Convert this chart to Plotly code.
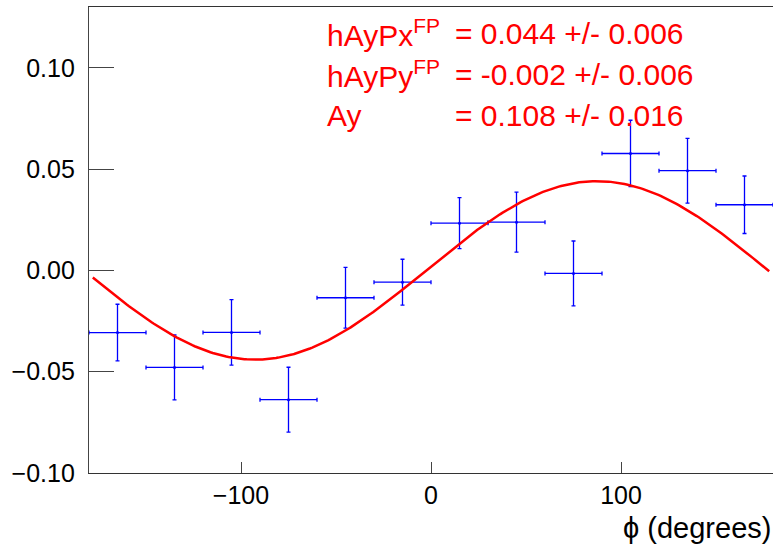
import numpy as np
import plotly.graph_objects as go

# binned asymmetry vs phi
phi = [-165, -135, -105, -75, -45, -15, 15, 45, 75, 105, 135, 165]
phi_err = [15] * 12
asym = [-0.0307, -0.0479, -0.0306, -0.0638, -0.0135, -0.0058,
        0.0233, 0.0238, -0.0015, 0.0577, 0.0492, 0.0324]
asym_err = [0.014, 0.016, 0.0162, 0.016, 0.015, 0.0113,
            0.0126, 0.0148, 0.016, 0.0164, 0.016, 0.0142]

# fit parameters shown on the plot
px_fp, px_err = 0.044, 0.006
py_fp, py_err = -0.002, 0.006
ay, ay_err = 0.108, 0.016

# fit curve
phi_fit = np.linspace(-178, 178, 300)
rad = np.radians(phi_fit)
f_fit = px_fp * np.sin(rad) - py_fp * np.cos(rad)

font = "Liberation Sans, Arial, Helvetica, sans-serif"

fig = go.Figure()
fig.add_trace(go.Scatter(
    x=phi, y=asym, mode="markers",
    marker=dict(color="#0000ff", size=3),
    error_x=dict(type="data", array=phi_err, color="#0000ff", thickness=1.3, width=2),
    error_y=dict(type="data", array=asym_err, color="#0000ff", thickness=1.3, width=2),
    showlegend=False,
))
fig.add_trace(go.Scatter(
    x=phi_fit, y=f_fit, mode="lines",
    line=dict(color="#ff0000", width=2.5),
    showlegend=False,
))

red = dict(family=font, size=30, color="#ff0000")
labels = [("hAyPx<sup>FP</sup>", f"= {px_fp:.3f} +/- {px_err:.3f}", 0.944),
          ("hAyPy<sup>FP</sup>", f"= {py_fp:.3f} +/- {py_err:.3f}", 0.856),
          ("Ay", f"= {ay:.3f} +/- {ay_err:.3f}", 0.768)]
for name, val, yy in labels:
    fig.add_annotation(x=0.345, y=yy, xref="paper", yref="paper", text=name,
                       showarrow=False, xanchor="left", yanchor="middle", font=red)
    fig.add_annotation(x=0.532, y=yy, xref="paper", yref="paper", text=val,
                       showarrow=False, xanchor="left", yanchor="middle", font=red)

fig.add_annotation(x=1.0, y=-0.118, xref="paper", yref="paper", text="ϕ (degrees)",
                   showarrow=False, xanchor="right", yanchor="middle",
                   font=dict(family=font, size=29, color="black"))

fig.update_layout(
    width=773, height=546,
    margin=dict(l=89, r=0, t=7, b=73),
    paper_bgcolor="white", plot_bgcolor="white",
    font=dict(family=font, size=25, color="black"),
    xaxis=dict(range=[-180, 180], tickvals=[-100, 0, 100], ticks="inside",
               ticklen=11, tickcolor="#444", showgrid=False, zeroline=False,
               showline=True, linecolor="#333", linewidth=1.3, mirror=True),
    yaxis=dict(range=[-0.10, 0.13], tickvals=[-0.10, -0.05, 0.0, 0.05, 0.10],
               tickformat=".2f", ticks="inside", ticklen=25, tickcolor="#444",
               ticklabelstandoff=8,
               showgrid=False, zeroline=False, showline=True, linecolor="#444",
               linewidth=1.3),
)

fig.write_html("out.html", config={"displayModeBar": False},
               post_script="document.body.style.margin='0';document.body.style.overflow='hidden';")
